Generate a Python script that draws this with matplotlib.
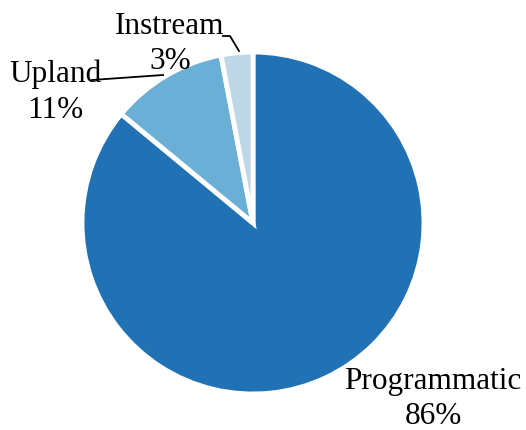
import matplotlib.pyplot as plt

labels = ['Programmatic', 'Upland', 'Instream']
shares = [86, 11, 3]
colors = ['#2171b5', '#6baed6', '#bdd7e7']

W, H = 526, 431
fig = plt.figure(figsize=(W / 100, H / 100), dpi=100)
ax = fig.add_axes([0, 0, 1, 1])

# pie in pixel-like coordinates (y measured from the bottom)
cx, cy, r = 253, H - 224, 171
ax.pie(shares, colors=colors, startangle=90, counterclock=False,
       center=(cx, cy), radius=r, frame=True,
       wedgeprops=dict(edgecolor='white', linewidth=3.5))
ax.set_xlim(0, W)
ax.set_ylim(0, H)
ax.set_aspect('equal')
ax.axis('off')

font = dict(family='Liberation Serif', size=22.5, ha='center', va='center',
            linespacing=1.3)
label_pos = {
    'Programmatic': (433, 399),
    'Upland': (55, 92),
    'Instream': (170, 44),
}
for name, val in zip(labels, shares):
    x, y = label_pos[name]
    ax.text(x, H - y, f'{name}\n{val}%', **font)

# leader lines for the two small slices
ax.plot([92, 163], [H - 81, H - 76], color='black', lw=1.3)
ax.plot([223, 230, 239], [H - 37, H - 37, H - 52], color='black', lw=1.3)

fig.savefig('out.png', dpi=100)
